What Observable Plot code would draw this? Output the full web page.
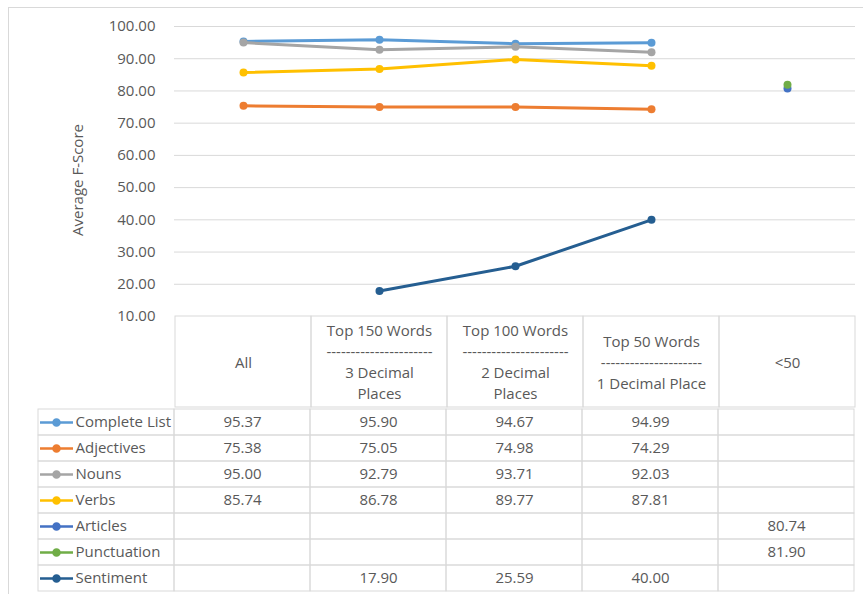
<!DOCTYPE html>
<html>
<head>
<meta charset="utf-8">
<script src="https://cdn.jsdelivr.net/npm/d3@7"></script>
<script src="https://cdn.jsdelivr.net/npm/@observablehq/plot@0.6"></script>
<style>
  html, body { margin: 0; padding: 0; background: #fff; }
  #wrap { position: relative; width: 863px; height: 594px; overflow: hidden; font-family: "Open Sans", sans-serif; }
  #frame { position: absolute; left: 8px; top: 7px; width: 870px; height: 600px; border: 1px solid #d9d9d9; box-sizing: border-box; }
  #wrap svg { position: absolute; left: 0; overflow: visible; background: transparent; }
  #ylabel { position: absolute; left: 77px; top: 180px; transform: translate(-50%, -50%) rotate(-90deg); white-space: nowrap; font-size: 15px; color: #595959; }
</style>
</head>
<body>
<div id="wrap"><div id="frame"></div><div id="ylabel">Average F-Score</div></div>
<script>
// ---- data ----
const columns = ["All", "Top 150", "Top 100", "Top 50", "<50"];
const headerLabels = [
  "All",
  "Top 150 Words\n----------------------\n3 Decimal\nPlaces",
  "Top 100 Words\n----------------------\n2 Decimal\nPlaces",
  "Top 50 Words\n---------------------\n1 Decimal Place",
  "<50"
];
const seriesNames = ["Complete List", "Adjectives", "Nouns", "Verbs", "Articles", "Punctuation", "Sentiment"];
const seriesColors = ["#5B9BD5", "#ED7D31", "#A5A5A5", "#FFC000", "#4472C4", "#70AD47", "#255E91"];
const completeList = [95.37, 95.90, 94.67, 94.99, null];
const adjectives   = [75.38, 75.05, 74.98, 74.29, null];
const nouns        = [95.00, 92.79, 93.71, 92.03, null];
const verbs        = [85.74, 86.78, 89.77, 87.81, null];
const articles     = [null, null, null, null, 80.74];
const punctuation  = [null, null, null, null, 81.90];
const sentiment    = [null, 17.90, 25.59, 40.00, null];
const yTicks = [10, 20, 30, 40, 50, 60, 70, 80, 90, 100];

// ---- build tables ----
const seriesValues = [completeList, adjectives, nouns, verbs, articles, punctuation, sentiment];
const points = [];
seriesNames.forEach((name, si) => {
  columns.forEach((col, ci) => {
    points.push({series: name, col, value: seriesValues[si][ci]});
  });
});
const colorScale = {domain: seriesNames, range: seriesColors};
const textColor = "#595959";
const grid = "#d9d9d9";
const wrap = document.getElementById("wrap");

// ---- chart ----
const chart = Plot.plot({
  width: 863, height: 318,
  marginTop: 26, marginBottom: 2, marginLeft: 174, marginRight: 8,
  style: {fontFamily: "Open Sans, sans-serif", fontSize: "15px", color: textColor, background: "transparent"},
  x: {type: "point", domain: columns, padding: 0.5, axis: null},
  y: {domain: [10, 100], ticks: yTicks, tickFormat: d => d.toFixed(2), tickSize: 0, tickPadding: 19, label: null},
  color: colorScale,
  marks: [
    Plot.ruleY(yTicks.slice(1), {stroke: grid, strokeWidth: 1}),
    ...seriesNames.map(name => [
      Plot.line(points.filter(p => p.series === name), {x: "col", y: "value", stroke: "series", strokeWidth: 3, defined: d => d.value != null}),
      Plot.dot(points.filter(p => p.series === name && p.value != null), {x: "col", y: "value", fill: "series", r: 4})
    ])
  ]
});
chart.style.top = "0px";
wrap.appendChild(chart);

// ---- header row ----
const headerRows = columns.map((c, i) => ({col: c, label: headerLabels[i]}));
const header = Plot.plot({
  width: 863, height: 91,
  marginTop: 0, marginBottom: 0, marginLeft: 174, marginRight: 8,
  style: {fontFamily: "Open Sans, sans-serif", fontSize: "15px", color: textColor, background: "transparent"},
  x: {type: "band", domain: columns, padding: 0, axis: null},
  marks: [
    Plot.cell(headerRows, {x: "col", fill: "none", stroke: grid, inset: 0}),
    Plot.text(headerRows, {x: "col", text: "label", fill: textColor, fontSize: 15, lineHeight: 1.4, lineAnchor: "middle", frameAnchor: "middle", dy: -1})
  ]
});
header.style.top = "316px";
wrap.appendChild(header);

// ---- body rows ----
const bodyCols = ["legend", ...columns];
const bodyCells = [];
seriesNames.forEach(name => bodyCols.forEach(col => bodyCells.push({series: name, col})));
const legendSymbol = {
  draw(ctx) {
    ctx.moveTo(-16.5, 0); ctx.lineTo(16.5, 0);
    ctx.moveTo(3, 0); ctx.arc(0, 0, 3, 0, 2 * Math.PI);
  }
};
const body = Plot.plot({
  width: 863, height: 185,
  marginTop: 0, marginBottom: 0, marginLeft: 37, marginRight: 8,
  style: {fontFamily: "Open Sans, sans-serif", fontSize: "15px", color: textColor, background: "transparent"},
  x: {type: "band", domain: bodyCols, padding: 0, axis: null},
  y: {type: "band", domain: seriesNames, padding: 0, axis: null},
  color: colorScale,
  marks: [
    Plot.cell(bodyCells, {x: "col", y: "series", fill: "none", stroke: grid, inset: 0}),
    Plot.text(points.filter(p => p.value != null), {x: "col", y: "series", text: d => d.value.toFixed(2), fill: textColor, fontSize: 15}),
    Plot.dot(seriesNames.map(s => ({series: s, col: "legend"})), {x: "col", y: "series", symbol: legendSymbol, stroke: "series", fill: "series", strokeWidth: 2.6, dx: -50}),
    Plot.text(seriesNames.map(s => ({series: s, col: "legend"})), {x: "col", y: "series", text: "series", textAnchor: "start", dx: -31, fill: textColor, fontSize: 15})
  ]
});
body.style.top = "407px";
wrap.appendChild(body);
</script>
</body>
</html>
